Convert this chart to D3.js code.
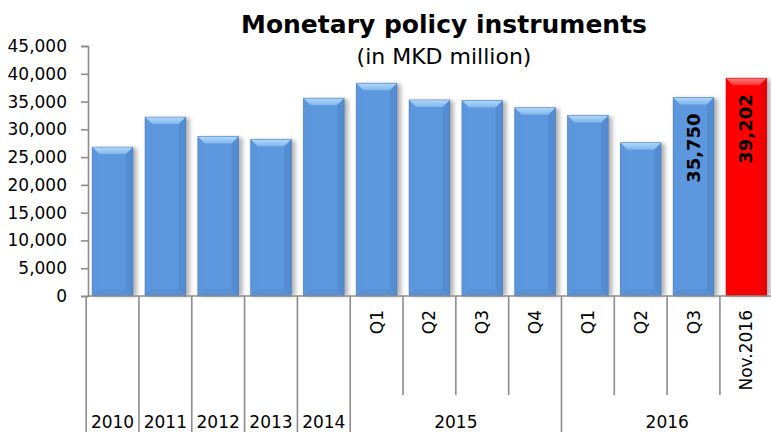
<!DOCTYPE html>
<html>
<head>
<meta charset="utf-8">
<script src="https://cdn.jsdelivr.net/npm/d3@7"></script>
<style>
  html, body { margin: 0; padding: 0; background: #ffffff; }
  svg { display: block; }
  text { font-family: "DejaVu Sans", Verdana, sans-serif; fill: #000; }
</style>
</head>
<body>
<svg id="chart" width="771" height="432"></svg>
<script>
// Monetary policy instruments, MKD million
const periodLabels = ["", "", "", "", "", "Q1", "Q2", "Q3", "Q4", "Q1", "Q2", "Q3", "Nov.2016"];
const yearLabels   = ["2010", "2011", "2012", "2013", "2014", "2015", "2015", "2015", "2015", "2016", "2016", "2016", "2016"];
const values       = [26800, 32200, 28700, 28200, 35600, 38300, 35300, 35200, 33900, 32500, 27600, 35750, 39202];
const highlighted  = [false, false, false, false, false, false, false, false, false, false, false, false, true];
const labelled     = [false, false, false, false, false, false, false, false, false, false, false, true, true];
const yTicks       = [0, 5000, 10000, 15000, 20000, 25000, 30000, 35000, 40000, 45000];

const svg = d3.select("#chart");
const W = 771, H = 432;
const plot = { left: 88, right: 773, top: 46, bottom: 296 };
const axisColor = "#8c8c8c";

const x = d3.scaleBand()
  .domain(d3.range(values.length))
  .range([plot.left, plot.right])
  .paddingInner(0.23)
  .paddingOuter(0.1)
  .align(0.4);

const y = d3.scaleLinear().domain([0, 45000]).range([plot.bottom, plot.top]);

// ----- gradients & shadow -----
const defs = svg.append("defs");
function vGrad(id, stops) {
  const g = defs.append("linearGradient").attr("id", id)
    .attr("x1", 0).attr("y1", 0).attr("x2", 0).attr("y2", 1);
  stops.forEach(([o, c]) => g.append("stop").attr("offset", o).attr("stop-color", c));
}
function hGrad(id, stops) {
  const g = defs.append("linearGradient").attr("id", id)
    .attr("x1", 0).attr("y1", 0).attr("x2", 1).attr("y2", 0);
  stops.forEach(([o, c]) => g.append("stop").attr("offset", o).attr("stop-color", c));
}
const palettes = {
  blue: { body: ["#5690d6", "#5d98de", "#5d98de", "#5289cf"], top: ["#b0d9fa", "#80b6ec"],
          bottom: "#5890d5", left: "#5c96dc", right: "#548cd2", stroke: "#4474b0" },
  red:  { body: ["#f80000", "#ff0000", "#ff0000", "#f00000"], top: ["#ff8080", "#ff3030"],
          bottom: "#f40000", left: "#fe0000", right: "#ec0000", stroke: "#c00000" }
};
Object.entries(palettes).forEach(([k, p]) => {
  hGrad("body-" + k, [["0", p.body[0]], ["0.15", p.body[1]], ["0.85", p.body[2]], ["1", p.body[3]]]);
  vGrad("top-" + k, [["0", p.top[0]], ["1", p.top[1]]]);
});
const shadow = defs.append("filter").attr("id", "shadow")
  .attr("x", "-20%").attr("y", "-10%").attr("width", "150%").attr("height", "120%");
shadow.append("feGaussianBlur").attr("stdDeviation", 2.2);

// ----- title -----
svg.append("text").attr("x", 444).attr("y", 33).attr("text-anchor", "middle")
  .style("font-size", "25px").style("font-weight", "bold").text("Monetary policy instruments");
svg.append("text").attr("x", 444).attr("y", 64).attr("text-anchor", "middle")
  .style("font-size", "22px").text("(in MKD million)");

// ----- bars -----
const bw = x.bandwidth();
const bev = 7;
const bars = svg.append("g").selectAll("g").data(values).join("g")
  .attr("transform", (d, i) => `translate(${x(i)},${y(d)})`);

bars.append("rect")
  .attr("x", 2).attr("y", 1)
  .attr("width", bw + 2).attr("height", d => plot.bottom - y(d) - 1)
  .attr("fill", "#000").attr("opacity", 0.3).attr("filter", "url(#shadow)");

bars.each(function (d, i) {
  const g = d3.select(this);
  const h = plot.bottom - y(d);
  const k = highlighted[i] ? "red" : "blue";
  const p = palettes[k];
  g.append("rect").attr("width", bw).attr("height", h).attr("fill", `url(#body-${k})`);
  g.append("polygon").attr("points", `0,0 ${bev},${bev} ${bev},${h - bev} 0,${h}`).attr("fill", p.left);
  g.append("polygon").attr("points", `${bw},0 ${bw - bev},${bev} ${bw - bev},${h - bev} ${bw},${h}`).attr("fill", p.right);
  g.append("polygon").attr("points", `${bev},${h - bev} ${bw - bev},${h - bev} ${bw},${h} 0,${h}`).attr("fill", p.bottom);
  g.append("polygon").attr("points", `0,0 ${bw},0 ${bw - bev},${bev} ${bev},${bev}`).attr("fill", `url(#top-${k})`);
  g.append("rect").attr("width", bw).attr("height", h).attr("fill", "none")
    .attr("stroke", p.stroke).attr("stroke-opacity", 0.6).attr("stroke-width", 0.8);
});

// value labels inside the last two bars
bars.filter((d, i) => labelled[i]).append("text")
  .attr("transform", `translate(${bw / 2 + 6},16) rotate(-90)`)
  .attr("text-anchor", "end")
  .style("font-size", "18px").style("font-weight", "bold")
  .text(d => d3.format(",")(d));

// ----- y axis -----
const yAxis = svg.append("g").attr("transform", `translate(${plot.left},0)`)
  .call(d3.axisLeft(y).tickValues(yTicks).tickFormat(d3.format(",")).tickSize(7).tickPadding(14));
yAxis.select(".domain").attr("stroke", axisColor).attr("stroke-width", 1.6);
yAxis.selectAll(".tick line").attr("stroke", axisColor).attr("stroke-width", 1.6);
yAxis.selectAll(".tick text").style("font-size", "17px").style("font-family", "DejaVu Sans, Verdana, sans-serif").attr("fill", "#000");

// ----- two-level category axis -----
const xa = svg.append("g");
xa.append("line").attr("x1", plot.left).attr("x2", plot.right)
  .attr("y1", plot.bottom).attr("y2", plot.bottom)
  .attr("stroke", axisColor).attr("stroke-width", 1.6);

const step = x.step();
const bandStart = i => x(i) - step * x.paddingInner() / 2;
const groupEdge = i => i === 0 || yearLabels[i] !== yearLabels[i - 1];
const shortBottom = 395;

d3.range(values.length + 1).forEach(i => {
  const xp = i < values.length ? bandStart(i) : plot.right;
  const full = i === values.length || groupEdge(i);
  xa.append("line").attr("x1", xp).attr("x2", xp)
    .attr("y1", plot.bottom).attr("y2", full ? H : shortBottom)
    .attr("stroke", axisColor).attr("stroke-width", 1.6);
});

// period labels (rotated)
periodLabels.forEach((lab, i) => {
  if (!lab) return;
  xa.append("text")
    .attr("transform", `translate(${x(i) + bw / 2 + 6},${plot.bottom + 14}) rotate(-90)`)
    .attr("text-anchor", "end")
    .style("font-size", "17px")
    .text(lab);
});

// year labels, centred under each group
const groups = [];
yearLabels.forEach((yr, i) => {
  if (groupEdge(i)) groups.push({ label: yr, start: i, end: i });
  else groups[groups.length - 1].end = i;
});
groups.forEach(gp => {
  const x0 = bandStart(gp.start);
  const x1 = gp.end + 1 < values.length ? bandStart(gp.end + 1) : plot.right;
  xa.append("text").attr("x", (x0 + x1) / 2).attr("y", 428)
    .attr("text-anchor", "middle").style("font-size", "17px").text(gp.label);
});
</script>
</body>
</html>
